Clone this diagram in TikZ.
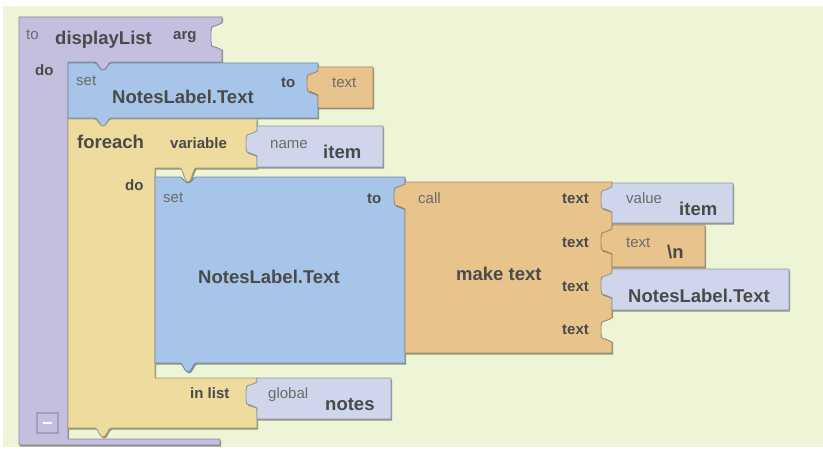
\documentclass[tikz,border=0pt]{standalone}
\usepackage{fontspec}
\setmainfont{Liberation Sans}
\usetikzlibrary{shadows}
\definecolor{bgc}{HTML}{EEF5D7}
\definecolor{purp}{HTML}{C4BFDF}
\definecolor{bluec}{HTML}{A6C5E8}
\definecolor{yell}{HTML}{EDDC9D}
\definecolor{oran}{HTML}{E8C38C}
\definecolor{lite}{HTML}{CFD6EB}
\definecolor{txtc}{HTML}{4A4A4A}
\definecolor{smc}{HTML}{6B6B6B}
\definecolor{mbox}{HTML}{A29EBD}
\begin{document}
\begin{tikzpicture}[x=1pt,y=-1pt,
  blk/.style={draw=#1!70!black, fill=#1, line width=0.9pt, line join=round,
    drop shadow={shadow xshift=1.2pt, shadow yshift=-1.5pt, opacity=0.4, fill=black}},
  sockedge/.style={draw=#1!70!black, line width=0.9pt, line join=round},
  lbl/.style={anchor=base west, inner sep=0pt, text=txtc, font=\fontsize{15}{15}\selectfont\bfseries},
  big/.style={anchor=base west, inner sep=0pt, text=txtc, font=\fontsize{18.5}{18.5}\selectfont\bfseries},
  sml/.style={anchor=base west, inner sep=0pt, text=smc, font=\fontsize{15}{15}\selectfont},
  tabL/.style n args={3}{insert path={-- (#1,#2+#3) .. controls (#1-2,#2+#3) and (#1-4,#2+#3-3) .. (#1-7,#2+#3-3) .. controls (#1-11,#2+#3-3) and (#1-11,#2+#3-6) .. (#1-11,#2+#3-9) -- (#1-11,#2+9) .. controls (#1-11,#2+6) and (#1-11,#2+3) .. (#1-7,#2+3) .. controls (#1-4,#2+3) and (#1-2,#2) .. (#1,#2)}},
  notchT/.style n args={3}{insert path={-- (#1,#2) .. controls (#1+3,#2) and (#1+4,#2+#3) .. (#1+8,#2+#3) .. controls (#1+12,#2+#3) and (#1+13,#2) .. (#1+16,#2)}},
  tabB/.style n args={3}{insert path={-- (#1+16,#2) .. controls (#1+13,#2) and (#1+12,#2+#3) .. (#1+8,#2+#3) .. controls (#1+4,#2+#3) and (#1+3,#2) .. (#1,#2)}}
]
\useasboundingbox (0,0) rectangle (823,452);
\fill[white] (0,0) rectangle (823,452);
\fill[bgc] (3,6) rectangle (823,447);

% procedure block
\path[blk=purp] (19,17) -- (222,17) -- (222,62) [tabB={95}{62}{8}] -- (68,62) -- (68,439) -- (220,439) -- (220,445) -- (19,445) -- cycle;
\fill[bgc] (224,50) [tabL={222}{23}{27}] -- (224,23) -- cycle;
\path[sockedge=purp] (222.5,50) [tabL={222}{23}{27}];
\draw[draw=mbox, line width=1.2pt] (37,413) rectangle (58,433);
\draw[white, line width=2pt] (43,423) -- (52,423);

% first set block
\path[blk=bluec] (68,63) [notchT={95}{63}{7}] -- (318,63) -- (318,118) [tabB={95}{118}{8}] -- (68,118) -- cycle;

% foreach block
\path[blk=yell] (68,119) [notchT={95}{119}{7}] -- (257,119) -- (257,168) [tabB={180}{168}{14}] -- (155,168) -- (155,378) -- (257,378) -- (257,428) [tabB={95}{428}{9}] -- (68,428) -- cycle;

% second set block
\path[blk=bluec] (155,177) [notchT={180}{177}{6}] -- (405,177) -- (405,363) [tabB={180}{363}{9}] -- (155,363) -- cycle;

% make text block
\path[blk=oran] (405,182) -- (612,182) -- (612,353) -- (405,353) [tabL={405}{184}{25}] -- cycle;
\fill[bgc] (614,342) [tabL={612}{318}{24}] -- (614,318) -- cycle;
\path[sockedge=oran] (612.5,342) [tabL={612}{318}{24}];

% value blocks
\path[blk=oran] (318,67) -- (373,67) -- (373,108) -- (318,108) [tabL={318}{71}{24}] -- cycle;
\path[blk=lite] (257,126) -- (383,126) -- (383,167) -- (257,167) [tabL={257}{131}{25}] -- cycle;
\path[blk=lite] (257,378) -- (391,378) -- (391,419) -- (257,419) [tabL={257}{382}{26}] -- cycle;
\path[blk=lite] (612,183) -- (733,183) -- (733,223) -- (612,223) [tabL={612}{187}{25}] -- cycle;
\path[blk=oran] (612,225) -- (705,225) -- (705,267) -- (612,267) [tabL={612}{229}{25}] -- cycle;
\path[blk=lite] (612,269) -- (789,269) -- (789,310) -- (612,310) [tabL={612}{273}{25}] -- cycle;

% texts
\node[sml] (tP) at (26,40) {to};
\node[big] (dl) at (55,45) {displayList};
\node[lbl] (argl) at (173,40) {arg};
\node[lbl] (doP) at (35,76) {do};
\node[sml] (set1) at (76,86) {set};
\node[big] (nl1) at (112,103) {NotesLabel.Text};
\node[lbl] (to1) at (281,88) {to};
\node[sml] (txt1) at (332,88) {text};
\node[big] (fe) at (77,148) {foreach};
\node[lbl] (var) at (170,148) {variable};
\node[sml] (nm) at (270,148) {name};
\node[big] (it1) at (323,158) {item};
\node[lbl] (doY) at (125,190) {do};
\node[sml] (set2) at (163,202) {set};
\node[lbl] (to2) at (367,203) {to};
\node[big] (nl2) at (198,283) {NotesLabel.Text};
\node[sml] (call) at (418,203) {call};
\node[big] (mk) at (456,280) {make text};
\node[lbl] (r1) at (562,204) {text};
\node[lbl] (r2) at (562,247) {text};
\node[lbl] (r3) at (562,291) {text};
\node[lbl] (r4) at (562,334) {text};
\node[sml] (val) at (626,203) {value};
\node[big] (it2) at (679,215) {item};
\node[sml] (txt2) at (626,247) {text};
\node[big] (nn) at (667,258) {\textbackslash n};
\node[big] (nl3) at (628,302) {NotesLabel.Text};
\node[lbl] (inl) at (190,398) {in list};
\node[sml] (glb) at (268,398) {global};
\node[big] (nts) at (325,410) {notes};
\end{tikzpicture}
\end{document}
